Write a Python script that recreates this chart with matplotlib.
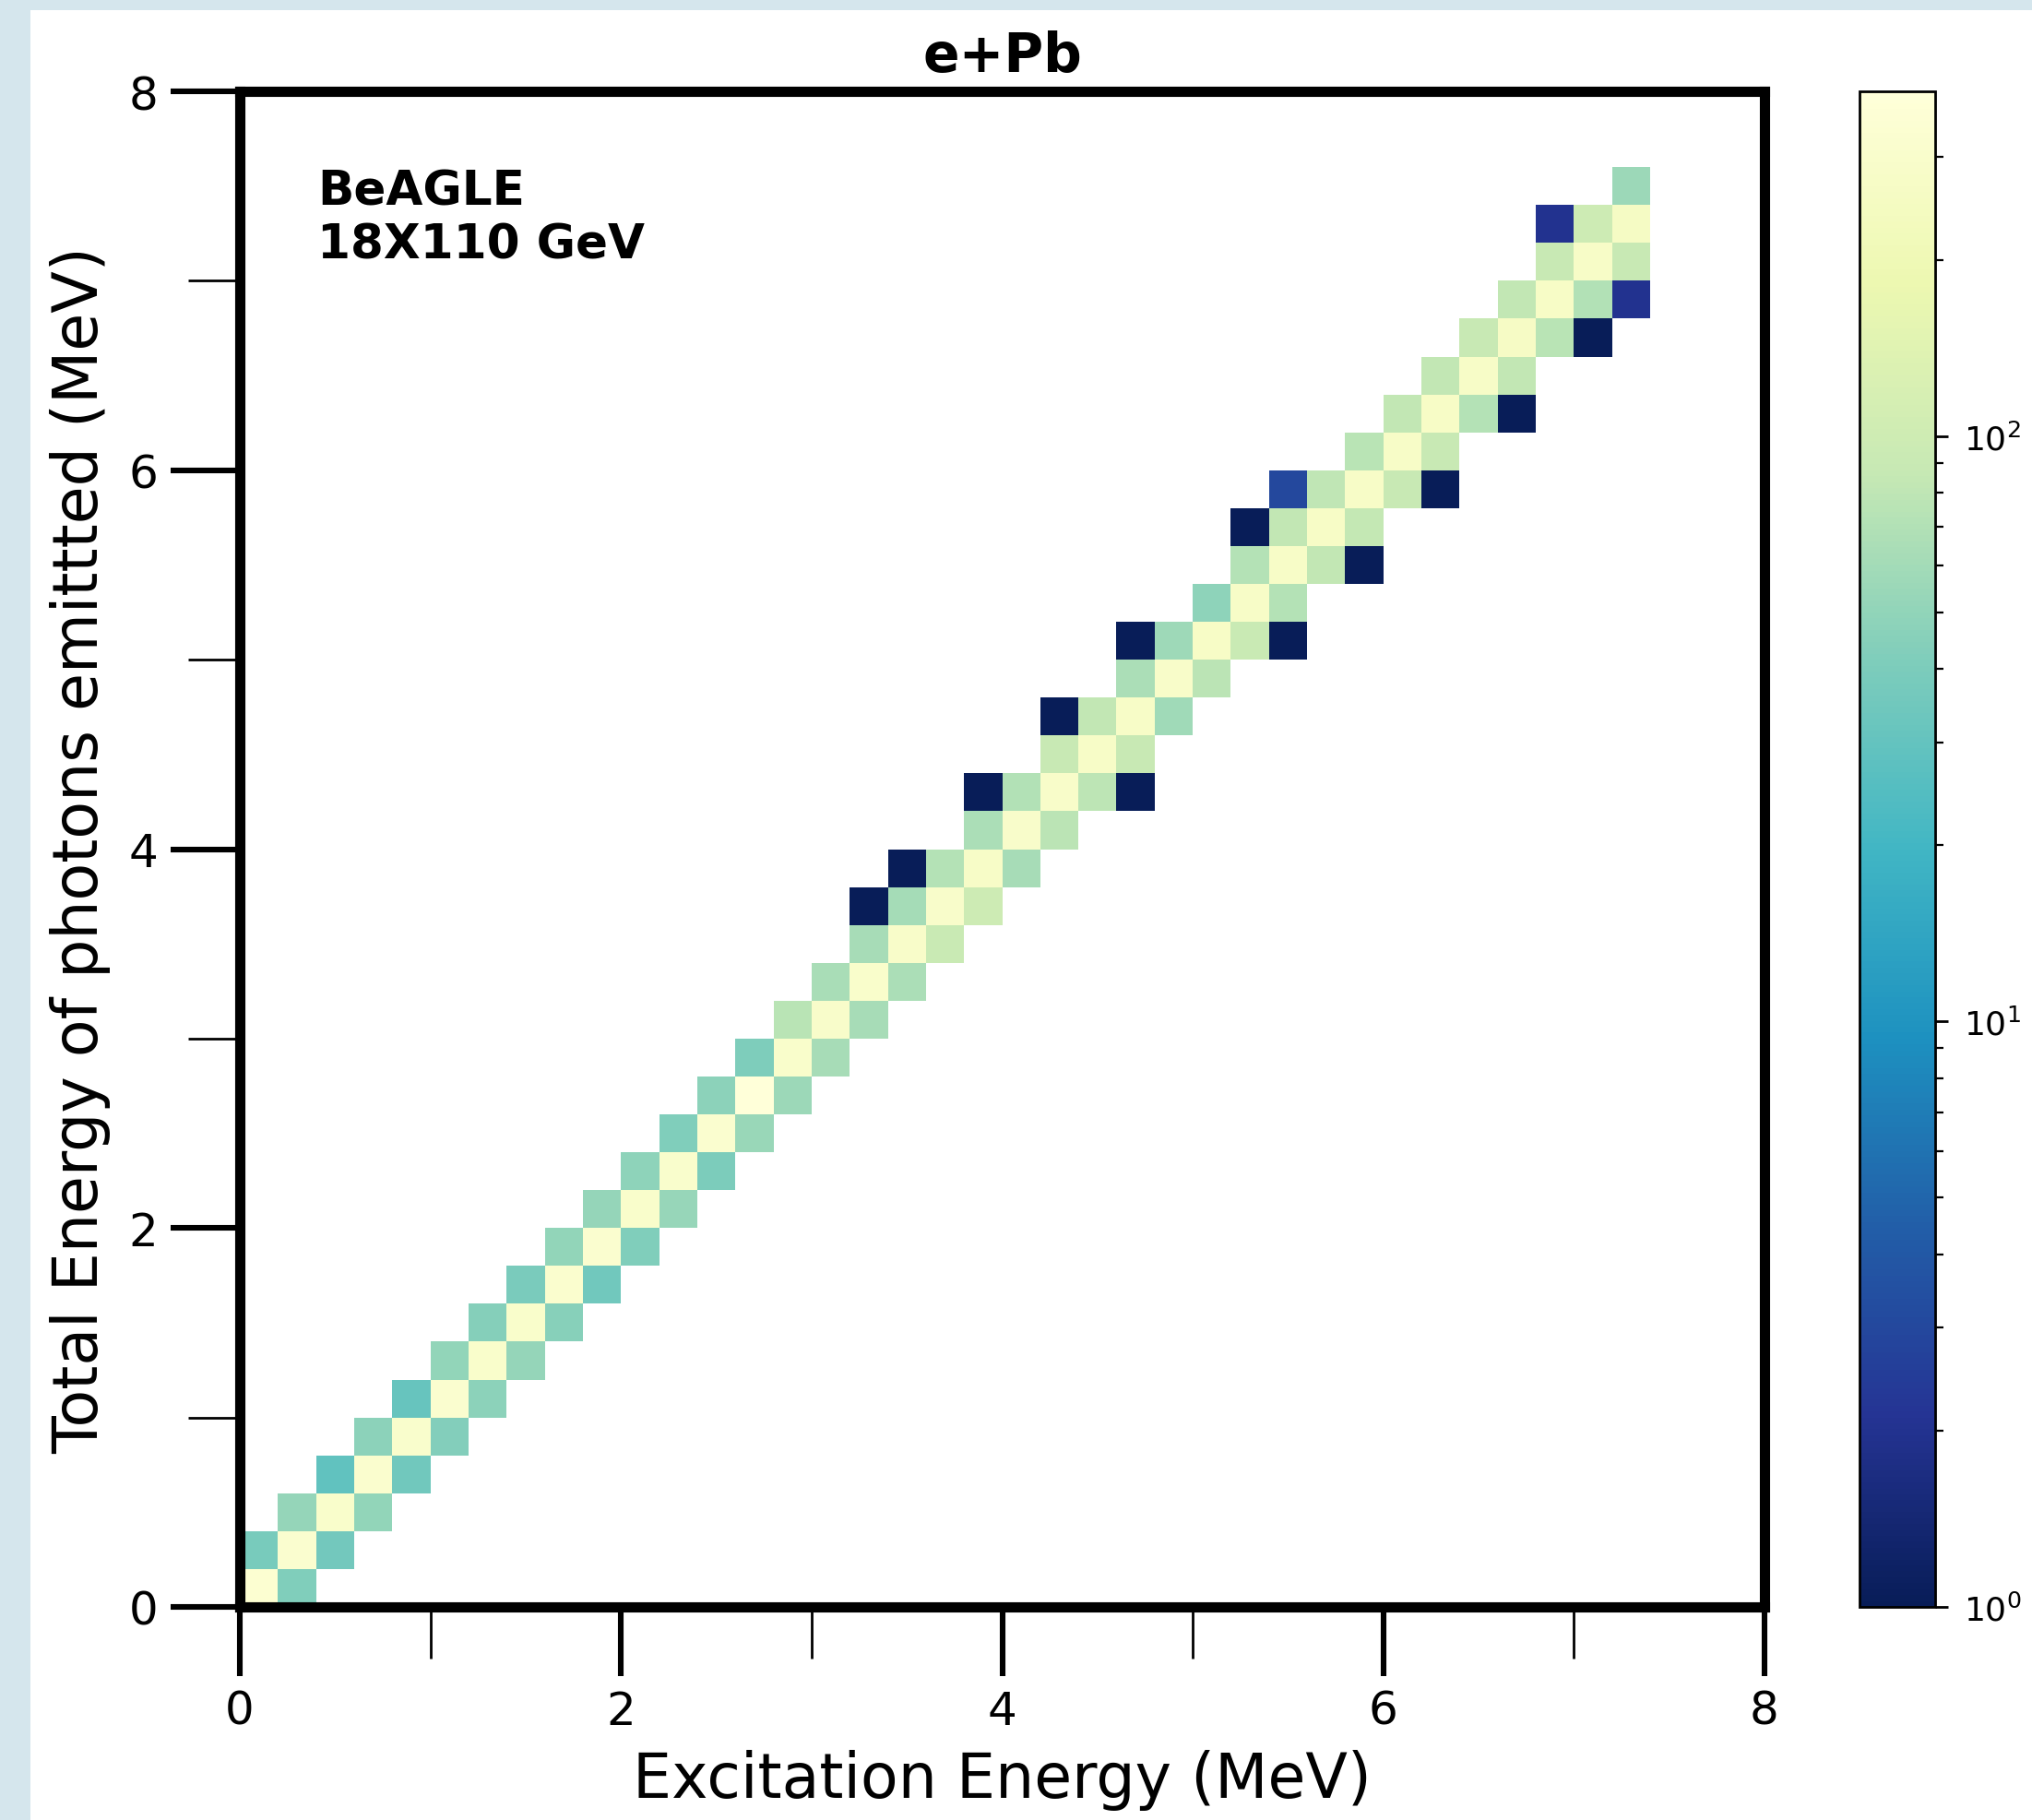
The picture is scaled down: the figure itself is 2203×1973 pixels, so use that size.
import numpy as np
import matplotlib
matplotlib.use('Agg')
import matplotlib.pyplot as plt
from matplotlib.colors import LogNorm
from matplotlib.patches import Rectangle
from matplotlib.ticker import MultipleLocator

# 0.2 MeV binning on both axes
edges = np.linspace(0, 8, 41)
centers = edges[:-1] + 0.1

# counts on the diagonal band, one entry per row of Egamma bins
# main diagonal (Ex bin == Egamma bin), rows 0..36
main_counts = [330, 320, 300, 310, 305, 315, 300, 295, 310, 320,
               300, 305, 315, 388, 300, 290, 295, 285, 290, 280,
               290, 285, 280, 275, 285, 270, 280, 275, 270, 280,
               275, 270, 280, 265, 270, 275, 260]
# cell left of the diagonal (Ex bin = row - 1), rows 1..37
left_counts = [38, 52, 29, 47, 31, 50, 44, 39, 51, 52,
               48, 42, 47, 41, 76, 64, 63, 61, 71, 65,
               70, 88, 83, 65, 57, 48, 71, 83, 81, 76,
               83, 83, 88, 83, 88, 98, 55]
# cell right of the diagonal (Ex bin = row + 1), rows 0..35
right_counts = [42, 36, 51, 35, 43, 47, 52, 45, 35, 42,
                53, 40, 54, 56, 62, 62, 66, 90, 98, 62,
                77, 79, 88, 58, 77, 90, 71, 83, 85, 88,
                88, 71, 83, 76, 70, 88]
# sparse off-band entries (MeV)
sparse_ex = [3.3, 3.5, 3.9, 4.7, 4.3, 4.7, 5.5, 5.9, 5.3, 5.5, 6.3, 6.7, 7.1, 7.3, 6.9]
sparse_eg = [3.7, 3.9, 4.3, 4.3, 4.7, 5.1, 5.1, 5.5, 5.7, 5.9, 5.9, 6.3, 6.7, 6.9, 7.3]
sparse_n = [1, 1, 1, 1, 1, 1, 1, 1, 1, 3, 1, 1, 1, 2, 2]

ex, eg, w = [], [], []
for j, n in enumerate(main_counts):
    ex.append(centers[j]); eg.append(centers[j]); w.append(n)
for k, n in enumerate(left_counts):
    j = k + 1
    ex.append(centers[j - 1]); eg.append(centers[j]); w.append(n)
for j, n in enumerate(right_counts):
    ex.append(centers[j + 1]); eg.append(centers[j]); w.append(n)
ex += sparse_ex
eg += sparse_eg
w += sparse_n

W, H = 2203, 1974
fig = plt.figure(figsize=(W / 200, H / 200), dpi=200)
fig.patch.set_facecolor('#d5e6ed')
fig.patches.append(Rectangle((33 / W, 0), 1 - 33 / W, 1 - 12 / H,
                             transform=fig.transFigure, facecolor='white',
                             edgecolor='none', zorder=-1))

ax_l, ax_b = 260 / W, 1 - 1743 / H
ax_w, ax_h = (1913 - 260) / W, (1743 - 100) / H
ax = fig.add_axes([ax_l, ax_b, ax_w, ax_h])
cax = fig.add_axes([2016 / W, ax_b, 82 / W, ax_h])

h = ax.hist2d(ex, eg, bins=[edges, edges], weights=w, cmap='YlGnBu_r',
              norm=LogNorm(vmin=1, vmax=max(w)), cmin=1)

ax.set_xlim(0, 8)
ax.set_ylim(0, 8)
for s in ax.spines.values():
    s.set_linewidth(4)
ax.xaxis.set_major_locator(MultipleLocator(2))
ax.yaxis.set_major_locator(MultipleLocator(2))
ax.xaxis.set_minor_locator(MultipleLocator(1))
ax.yaxis.set_minor_locator(MultipleLocator(1))
ax.tick_params(which='major', length=27, width=2.2, labelsize=18, pad=5)
ax.tick_params(which='minor', length=20, width=1)

ax.set_xlabel('Excitation Energy (MeV)', fontsize=24, labelpad=6)
ax.set_ylabel('Total Energy of photons emittted (MeV)', fontsize=24, labelpad=7)
ax.set_title('e+Pb', fontsize=21, fontweight='bold', pad=8)
ax.text(0.051, 0.949, 'BeAGLE\n18X110 GeV', transform=ax.transAxes,
        fontsize=18.6, fontweight='bold', va='top', ha='left')

cb = fig.colorbar(h[3], cax=cax)
cb.outline.set_linewidth(1)
cax.tick_params(which='major', length=5, width=1, labelsize=13, pad=6)
cax.tick_params(which='minor', length=3.2, width=0.8)

fig.savefig('out.png', dpi=200)
